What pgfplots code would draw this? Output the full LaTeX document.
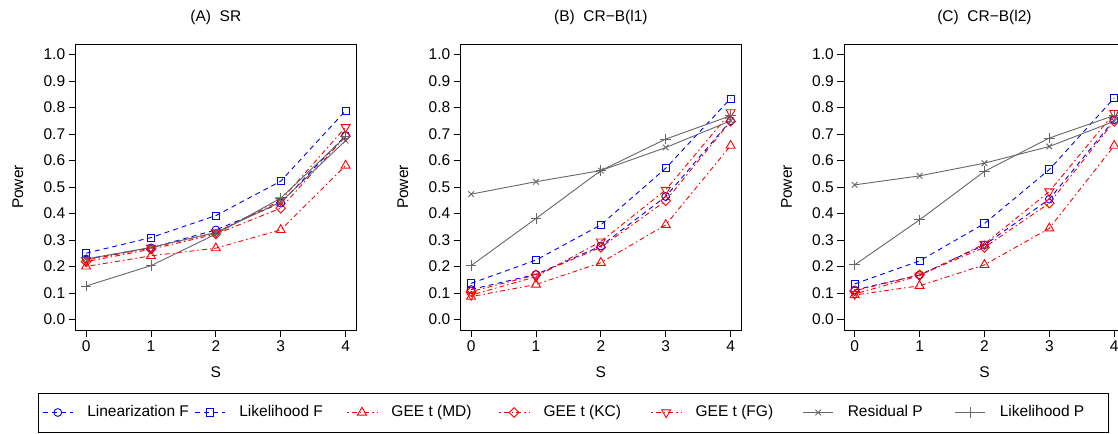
\documentclass[border=0pt]{standalone}
\usepackage{fontspec}
\setmainfont{Liberation Sans}
\usepackage{pgfplots}
\pgfplotsset{compat=1.18}
\usepackage{pgfplotstable}

\definecolor{rblue}{RGB}{0,0,255}
\definecolor{rred}{RGB}{255,0,0}
\definecolor{rgray}{RGB}{102,102,102}
\newcommand\ff{\fontsize{15.5bp}{18bp}\selectfont}

\pgfplotstableread{
S LinF LikF MD KC FG ResP LikP
0 0.228 0.250 0.200 0.218 0.224 0.228 0.126
1 0.270 0.309 0.240 0.265 0.270 0.272 0.203
2 0.338 0.392 0.269 0.322 0.328 0.328 0.322
3 0.439 0.522 0.338 0.420 0.449 0.443 0.458
4 0.695 0.788 0.581 0.692 0.726 0.675 0.690
}\tabA
\pgfplotstableread{
S LinF LikF MD KC FG ResP LikP
0 0.113 0.136 0.086 0.105 0.092 0.473 0.203
1 0.170 0.224 0.132 0.168 0.161 0.520 0.381
2 0.277 0.357 0.214 0.272 0.294 0.562 0.562
3 0.464 0.571 0.357 0.448 0.489 0.649 0.681
4 0.750 0.834 0.656 0.748 0.782 0.750 0.769
}\tabB
\pgfplotstableread{
S LinF LikF MD KC FG ResP LikP
0 0.111 0.134 0.092 0.108 0.096 0.508 0.206
1 0.168 0.221 0.127 0.168 0.165 0.542 0.376
2 0.281 0.362 0.206 0.272 0.285 0.590 0.559
3 0.454 0.566 0.344 0.439 0.483 0.653 0.685
4 0.754 0.836 0.656 0.748 0.779 0.748 0.770
}\tabC

\pgfplotsset{
  rpanel/.style={
    scale only axis, width=280.3bp, height=286bp,
    anchor=south west,
    xmin=-0.16, xmax=4.16, ymin=-0.04, ymax=1.04,
    xtick={0,1,2,3,4},
    ytick={0,0.1,0.2,0.3,0.4,0.5,0.6,0.7,0.8,0.9,1},
    minor tick num=0,
    tick align=outside, xtick pos=bottom, ytick pos=left,
    major tick length=7bp,
    axis line style={line width=0.75bp, black},
    tick style={line width=0.75bp, black},
    tick label style={font=\ff},
    label style={font=\ff},
    title style={font=\ff},
    xticklabel style={/pgf/number format/assume math mode=true},
    yticklabel style={/pgf/number format/.cd, fixed, fixed zerofill, precision=1, assume math mode=true},
    every axis title/.style={at={(axis description cs:0.5,1.0944)}, anchor=center},
    every axis y label/.style={at={(axis description cs:-0.206,0.5)}, rotate=90, anchor=center},
    every axis x label/.style={at={(axis description cs:0.5,-0.147)}, anchor=center},
    xlabel={S}, ylabel={Power},
    legend image code/.code={\draw[mark repeat=2,mark phase=2] plot coordinates {(0bp,0bp) (15bp,0bp) (30bp,0bp)};},
  },
  linF/.style={rblue, line width=0.9bp, dash pattern=on 5bp off 4bp, mark=o, mark size=3.9bp, mark options={solid}},
  likF/.style={rblue, line width=0.9bp, dash pattern=on 5bp off 4bp, mark=square, mark size=3.6bp, mark options={solid}},
  md/.style={rred, line width=0.9bp, dash pattern=on 1.5bp off 3bp on 5bp off 3bp, mark=triangle, mark size=5.2bp, mark options={solid}},
  kc/.style={rred, line width=0.9bp, dash pattern=on 1.5bp off 3bp on 5bp off 3bp, mark=square, mark size=3.4bp, mark options={solid, rotate=45}},
  fg/.style={rred, line width=0.9bp, dash pattern=on 1.5bp off 3bp on 5bp off 3bp, mark=triangle, mark size=5.2bp, mark options={solid, rotate=180}},
  resP/.style={rgray, line width=0.9bp, solid, mark=x, mark size=4bp},
  likP/.style={rgray, line width=0.9bp, solid, mark=+, mark size=5.3bp},
}

\begin{document}
\begin{tikzpicture}[font=\ff]
\useasboundingbox (0,0) rectangle (1118bp,434bp);

\begin{axis}[rpanel, at={(75.7bp,104bp)}, title={(A)~~SR},
  legend columns=7,
  legend style={at={(axis description cs:-0.1345,-0.2885)}, anchor=west, draw=black,
    line width=0.75bp, inner xsep=4bp, inner ysep=9bp, font=\ff,
    cells={anchor=west},
    nodes={inner xsep=0pt, inner ysep=3bp, text height=11.5bp, text depth=3.5bp}},
]
\addplot[linF] table[x=S,y=LinF]{\tabA};
\addlegendentry{\makebox[121.2bp][l]{\hspace{14bp}Linearization F}}
\addplot[likF] table[x=S,y=LikF]{\tabA};
\addlegendentry{\makebox[121.2bp][l]{\hspace{14bp}Likelihood F}}
\addplot[md] table[x=S,y=MD]{\tabA};
\addlegendentry{\makebox[121.2bp][l]{\hspace{14bp}GEE t (MD)}}
\addplot[kc] table[x=S,y=KC]{\tabA};
\addlegendentry{\makebox[121.2bp][l]{\hspace{14bp}GEE t (KC)}}
\addplot[fg] table[x=S,y=FG]{\tabA};
\addlegendentry{\makebox[121.2bp][l]{\hspace{14bp}GEE t (FG)}}
\addplot[resP] table[x=S,y=ResP]{\tabA};
\addlegendentry{\makebox[121.2bp][l]{\hspace{14bp}Residual P}}
\addplot[likP] table[x=S,y=LikP]{\tabA};
\addlegendentry{\makebox[118bp][l]{\hspace{14bp}Likelihood P}}
\end{axis}

\begin{axis}[rpanel, at={(460.7bp,104bp)}, title={(B)~~CR−B(l1)}]
\addplot[linF] table[x=S,y=LinF]{\tabB};
\addplot[likF] table[x=S,y=LikF]{\tabB};
\addplot[md] table[x=S,y=MD]{\tabB};
\addplot[kc] table[x=S,y=KC]{\tabB};
\addplot[fg] table[x=S,y=FG]{\tabB};
\addplot[resP] table[x=S,y=ResP]{\tabB};
\addplot[likP] table[x=S,y=LikP]{\tabB};
\end{axis}

\begin{axis}[rpanel, at={(844.3bp,104bp)}, title={(C)~~CR−B(l2)}]
\addplot[linF] table[x=S,y=LinF]{\tabC};
\addplot[likF] table[x=S,y=LikF]{\tabC};
\addplot[md] table[x=S,y=MD]{\tabC};
\addplot[kc] table[x=S,y=KC]{\tabC};
\addplot[fg] table[x=S,y=FG]{\tabC};
\addplot[resP] table[x=S,y=ResP]{\tabC};
\addplot[likP] table[x=S,y=LikP]{\tabC};
\end{axis}
\end{tikzpicture}
\end{document}
